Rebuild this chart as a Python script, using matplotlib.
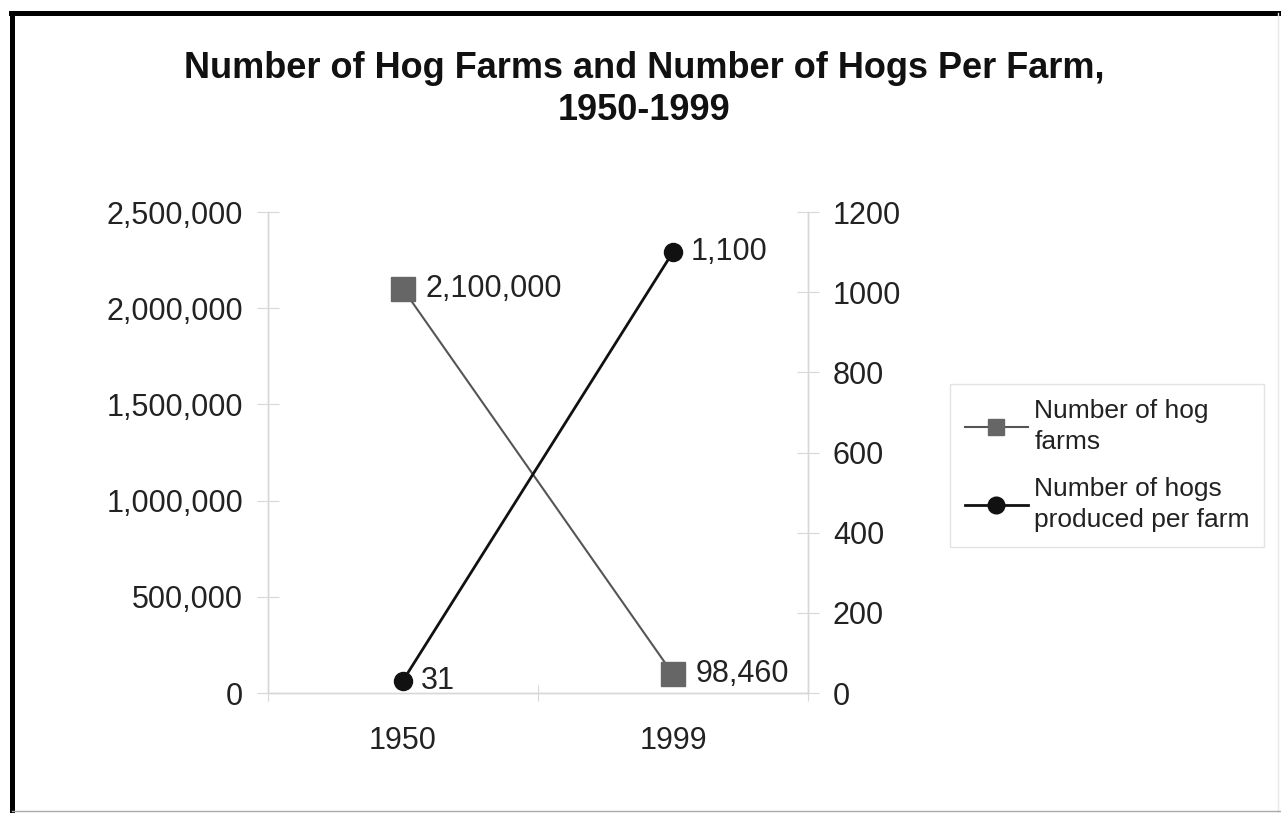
import matplotlib.pyplot as plt
from matplotlib.lines import Line2D
from matplotlib.ticker import FuncFormatter

plt.rcParams['font.family'] = ['Liberation Sans', 'DejaVu Sans']

years = ['1950', '1999']
hog_farms = [2100000, 98460]
hogs_per_farm = [31, 1100]
farm_labels = ['2,100,000', '98,460']
hog_labels = ['31', '1,100']

fig = plt.figure(figsize=(12.81, 8.13), dpi=100)
ax = fig.add_axes([0.2092, 0.1476, 0.4215, 0.5916])
ax2 = ax.twinx()

x = list(range(len(years)))
l1, = ax.plot(x, hog_farms, color='#555555', lw=1.5, marker='s', ms=17,
              mfc='#666666', mec='#666666', label='Number of hog\nfarms')
l2, = ax2.plot(x, hogs_per_farm, color='#111111', lw=2, marker='o', ms=13,
               mfc='#111111', mec='#111111', label='Number of hogs\nproduced per farm')

for xi, v, t in zip(x, hog_farms, farm_labels):
    ax.annotate(t, (xi, v), xytext=(16, 0), textcoords='offset points',
                va='center', ha='left', fontsize=22, color='#222222')
for xi, v, t in zip(x, hogs_per_farm, hog_labels):
    ax2.annotate(t, (xi, v), xytext=(13, 0), textcoords='offset points',
                 va='center', ha='left', fontsize=22, color='#222222')

ax.set_xlim(-0.5, 1.5)
ax.set_ylim(0, 2500000)
ax2.set_ylim(0, 1200)
ax.set_yticks(range(0, 2500001, 500000))
ax2.set_yticks(range(0, 1201, 200))
ax.yaxis.set_major_formatter(FuncFormatter(lambda v, p: f'{int(v):,}'))

ax.set_xticks([-0.5, 0.5, 1.5])
ax.set_xticklabels([])
ax.set_xticks(x, minor=True)
ax.set_xticklabels(years, minor=True)
ax.tick_params(axis='x', which='minor', length=0, pad=24, labelsize=22, labelcolor='#222222')
ax.tick_params(axis='x', which='major', direction='inout', length=12, color='#d8d8d8')
ax.tick_params(axis='y', direction='inout', length=16, color='#d8d8d8', pad=10,
               labelsize=22, labelcolor='#222222')
ax2.tick_params(axis='y', direction='inout', length=16, color='#d8d8d8', pad=10,
                labelsize=22, labelcolor='#222222')

for a in (ax, ax2):
    a.spines['top'].set_visible(False)
    for s in ('left', 'right', 'bottom'):
        a.spines[s].set_color('#d8d8d8')
        a.spines[s].set_linewidth(1)

fig.text(0.503, 0.89, 'Number of Hog Farms and Number of Hogs Per Farm,\n1950-1999',
         ha='center', va='center', fontsize=26, fontweight='bold',
         linespacing=1.25, color='#111111')

leg = fig.legend(handles=[l1, l2], loc='center left', bbox_to_anchor=(0.7416, 0.4274),
                 fontsize=19, frameon=True, fancybox=False, edgecolor='#dddddd',
                 handlelength=2.4, handletextpad=0.25, labelspacing=0.85, borderpad=0.55,
                 borderaxespad=0)
leg.get_frame().set_linewidth(1)
for h, ms in zip(leg.legend_handles, [11, 12]):
    h.set_markersize(ms)
for t in leg.get_texts():
    t.set_color('#222222')
    t.set_linespacing(1.4)

# outer border
fig.add_artist(Line2D([0.0097, 0.0097], [0.0, 0.984], transform=fig.transFigure,
                      color='black', lw=3.6))
fig.add_artist(Line2D([0.0085, 1.0], [0.984, 0.984], transform=fig.transFigure,
                      color='black', lw=3.6))
fig.add_artist(Line2D([0.998, 0.998], [0.0, 0.984], transform=fig.transFigure,
                      color='#e8e8e8', lw=1))
fig.add_artist(Line2D([0.0097, 1.0], [0.003, 0.003], transform=fig.transFigure,
                      color='#aaaaaa', lw=1))

fig.savefig('out.png', dpi=100)
